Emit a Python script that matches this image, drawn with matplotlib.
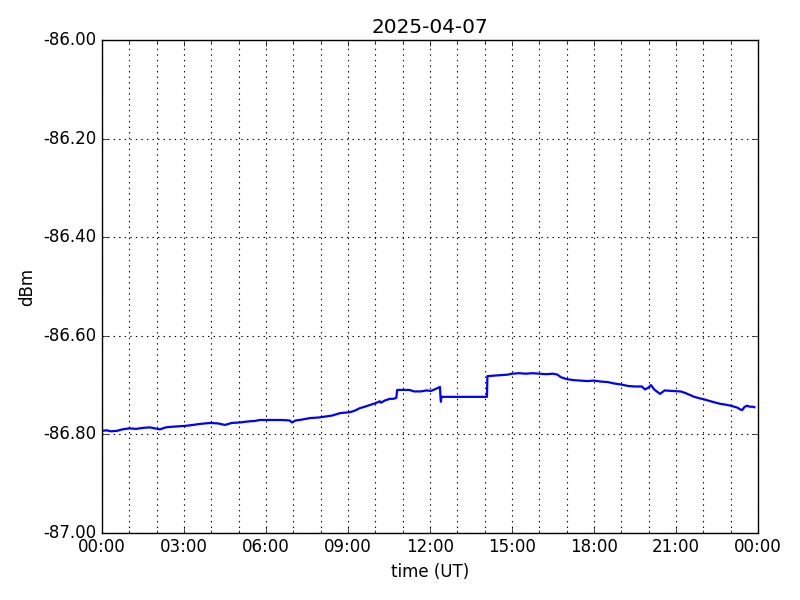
"""
Daily received-signal-level plot (dBm vs UT), classic matplotlib look.
"""

import numpy as np
import pandas as pd
import matplotlib
matplotlib.use("Agg")
import matplotlib.pyplot as plt
import matplotlib.dates as mdates
from matplotlib.ticker import FormatStrFormatter

DAY = "2025-04-07"

# minutes after 00:00 UT
minutes = [
    0, 10, 20, 33, 45, 60, 75, 90, 105, 127, 140, 150, 165, 182, 200, 215,
    237, 255, 270, 285, 303, 320, 335, 347, 365, 380, 395, 412, 417, 425,
    440, 457, 475, 490, 505, 512, 523, 535, 545, 555, 566, 577, 590, 600,
    610, 612, 622, 632, 640, 646, 647, 648, 660, 675, 685, 700, 712, 722,
    730, 737, 742, 743, 744, 745, 845, 846, 860, 875, 890, 900, 915, 930,
    945, 960, 975, 990, 1000, 1007, 1020, 1035, 1050, 1065, 1080, 1095,
    1110, 1125, 1140, 1155, 1170, 1185, 1192, 1200, 1205, 1212, 1225, 1235,
    1250, 1270, 1280, 1290, 1300, 1312, 1325, 1340, 1356, 1370, 1380, 1395,
    1400, 1405, 1410, 1415, 1422, 1428, 1432,
]
# received level (dBm)
level = [
    -86.793, -86.792, -86.794, -86.793, -86.790, -86.788, -86.789, -86.787,
    -86.786, -86.790, -86.786, -86.785, -86.784, -86.783, -86.781, -86.779,
    -86.777, -86.778, -86.781, -86.777, -86.776, -86.774, -86.773, -86.771,
    -86.771, -86.771, -86.771, -86.772, -86.776, -86.772, -86.770, -86.767,
    -86.766, -86.764, -86.762, -86.760, -86.757, -86.756, -86.755, -86.752,
    -86.747, -86.744, -86.740, -86.737, -86.733, -86.736, -86.731, -86.728,
    -86.728, -86.726, -86.718, -86.710, -86.710, -86.710, -86.713, -86.713,
    -86.711, -86.712, -86.709, -86.706, -86.704, -86.725, -86.734, -86.724,
    -86.724, -86.682, -86.681, -86.680, -86.679, -86.677, -86.676, -86.677,
    -86.676, -86.677, -86.678, -86.677, -86.679, -86.684, -86.688, -86.690,
    -86.691, -86.692, -86.691, -86.693, -86.694, -86.697, -86.699, -86.702,
    -86.703, -86.703, -86.709, -86.705, -86.700, -86.709, -86.718, -86.711,
    -86.712, -86.713, -86.716, -86.720, -86.724, -86.727, -86.730, -86.734,
    -86.738, -86.740, -86.742, -86.746, -86.749, -86.751, -86.745, -86.742,
    -86.744, -86.744, -86.745,
]

plt.style.use("classic")

t0 = pd.Timestamp(DAY)
times = t0 + pd.to_timedelta(minutes, unit="min")

fig = plt.figure(figsize=(8, 6))
ax = fig.add_subplot(111)
fig.subplots_adjust(left=0.1275, right=0.9475, bottom=0.112, top=0.933)

ax.plot(times, level, color="b", lw=1.6)

ax.set_xlim(t0, t0 + pd.Timedelta(days=1))
ax.set_ylim(-87.0, -86.0)
ax.xaxis.set_major_locator(mdates.HourLocator(byhour=range(0, 24, 3)))
ax.xaxis.set_minor_locator(mdates.HourLocator())
ax.xaxis.set_major_formatter(mdates.DateFormatter("%H:%M"))
ax.yaxis.set_major_formatter(FormatStrFormatter("%.2f"))
ax.set_yticks(np.arange(-87.0, -85.99, 0.2))

ax.grid(True, which="major", color="k", ls=":", lw=0.8)
ax.grid(True, which="minor", axis="x", color="k", ls=":", lw=0.8)

ax.set_xlabel("time (UT)")
ax.set_ylabel("dBm")
ax.set_title(DAY)

fig.savefig("out.png", dpi=100)
